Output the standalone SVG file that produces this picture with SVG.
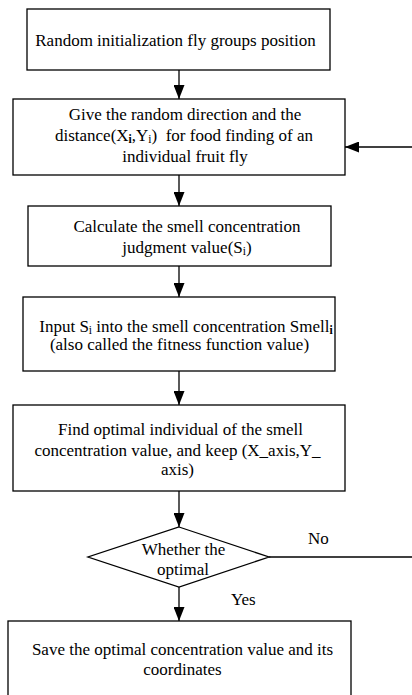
<svg xmlns="http://www.w3.org/2000/svg" width="412" height="695" viewBox="0 0 412 695">
<style>
.box{fill:#fff;stroke:#000;stroke-width:1.3}
.t{font-family:"Liberation Serif","Times New Roman",serif;font-size:17px;fill:#000;text-anchor:middle}
.l{font-family:"Liberation Serif","Times New Roman",serif;font-size:17px;fill:#000}
.c{stroke:#000;stroke-width:1.3;fill:none}
.sub{font-size:11.5px}
</style>
<defs>
<marker id="ah" viewBox="0 0 14 11" refX="14" refY="5.5" markerWidth="14" markerHeight="11" markerUnits="userSpaceOnUse" orient="auto">
<path d="M0,0 L14,5.5 L0,11 Z" fill="#000"/>
</marker>
</defs>
<g id="connectors">
<line class="c" x1="179" y1="70" x2="179" y2="99" marker-end="url(#ah)"/>
<line class="c" x1="179" y1="175" x2="179" y2="206" marker-end="url(#ah)"/>
<line class="c" x1="179" y1="266" x2="179" y2="297" marker-end="url(#ah)"/>
<line class="c" x1="179" y1="371" x2="179" y2="405" marker-end="url(#ah)"/>
<line class="c" x1="179" y1="491" x2="179" y2="527" marker-end="url(#ah)"/>
<line class="c" x1="179" y1="587" x2="179" y2="621" marker-end="url(#ah)"/>
<line class="c" x1="269" y1="557" x2="412" y2="557"/>
<line class="c" x1="412" y1="147" x2="345" y2="147" marker-end="url(#ah)"/>
<text class="l" x="308" y="544">No</text>
<text class="l" x="231" y="605">Yes</text>
</g>
<g id="n1">
<rect class="box" x="27" y="9" width="303" height="61"/>
<text class="t" x="175.5" y="46">Random initialization fly groups position</text>
</g>
<g id="n2">
<rect class="box" x="13" y="99" width="332" height="76"/>
<text class="t" x="185" y="120">Give the random direction and the</text>
<text class="t" x="184" y="141">distance(X<tspan class="sub" font-weight="bold" dy="2">i</tspan><tspan dy="-2">,Y</tspan><tspan class="sub" dy="2">i</tspan><tspan dy="-2">)&#160; for food finding of an</tspan></text>
<text class="t" x="185" y="162">individual fruit fly</text>
</g>
<g id="n3">
<rect class="box" x="28" y="206" width="303" height="60"/>
<text class="t" x="187" y="232">Calculate the smell concentration</text>
<text class="t" x="187" y="253">judgment value(S<tspan class="sub" dy="2">i</tspan><tspan dy="-2">)</tspan></text>
</g>
<g id="n4">
<rect class="box" x="23" y="297" width="312" height="74"/>
<text class="t" x="186" y="332">Input S<tspan class="sub" dy="2">i</tspan><tspan dy="-2"> into the smell concentration Smell</tspan><tspan class="sub" font-weight="bold" dy="2">i</tspan></text>
<text class="t" x="179.5" y="350">(also called the fitness function value)</text>
</g>
<g id="n5">
<rect class="box" x="13" y="405" width="332" height="86"/>
<text class="t" x="180.5" y="435">Find optimal individual of the smell</text>
<text class="t" x="177.5" y="456">concentration value, and keep (X_axis,Y_</text>
<text class="t" x="177.5" y="475">axis)</text>
</g>
<g id="n6">
<path class="box" d="M179,527 L269,557 L179,587 L88,557 Z"/>
<text class="t" x="183.5" y="555">Whether the</text>
<text class="t" x="183" y="575">optimal</text>
</g>
<g id="n7">
<rect class="box" x="8" y="621" width="343" height="80"/>
<text class="t" x="182.5" y="655">Save the optimal concentration value and its</text>
<text class="t" x="182.5" y="675">coordinates</text>
</g>
</svg>
